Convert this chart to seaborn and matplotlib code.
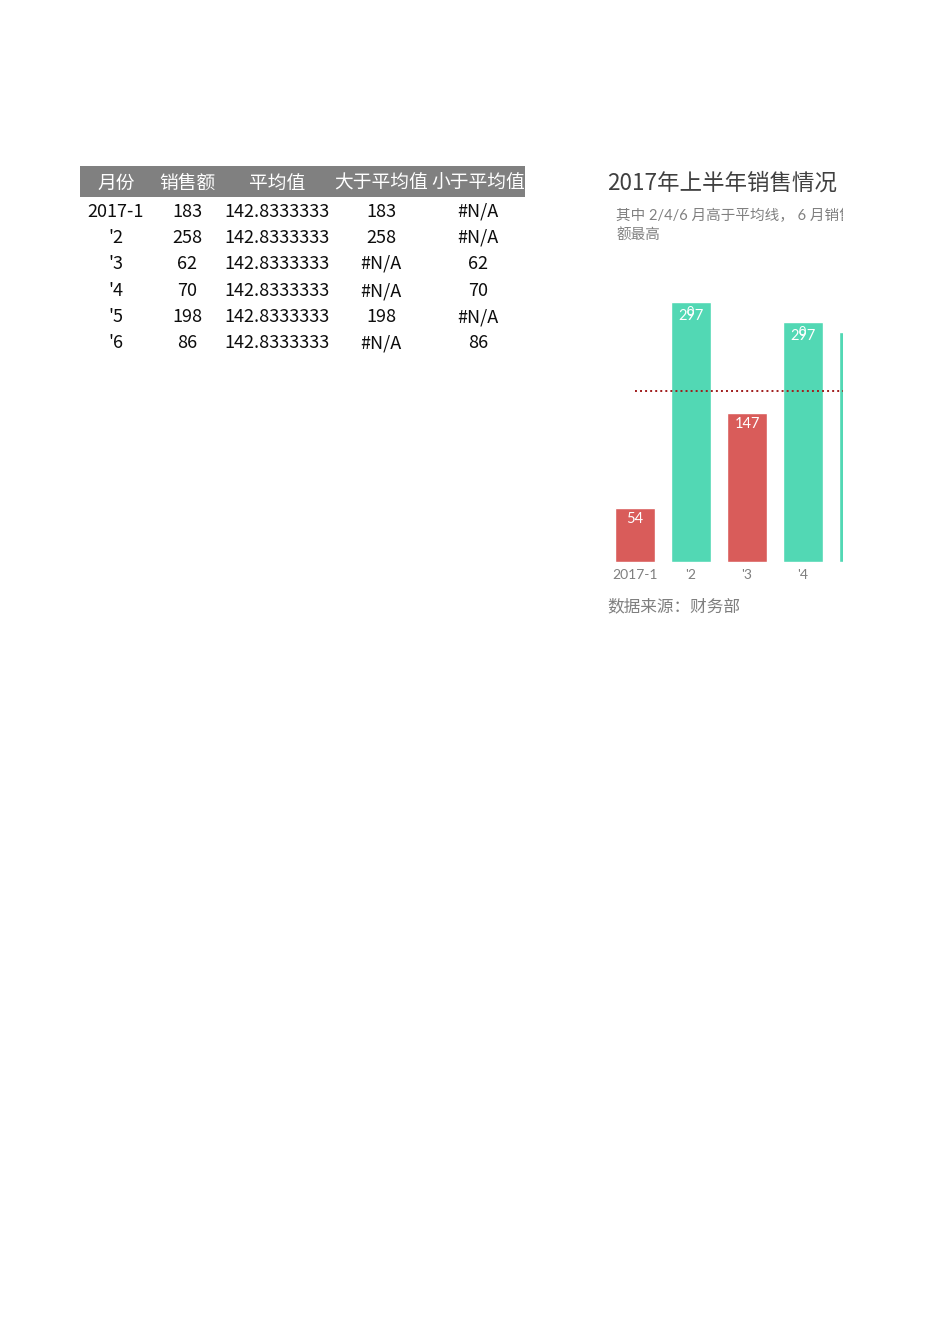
import pandas as pd
import matplotlib
matplotlib.use("Agg")
import matplotlib.pyplot as plt
import seaborn as sns
from matplotlib.patches import Rectangle

# table data (left part of the sheet)
headers = ["月份", "销售额", "平均值", "大于平均值", "小于平均值"]
months = ["2017-1", "'2", "'3", "'4", "'5", "'6"]
sales = ["183", "258", "62", "70", "198", "86"]
averages = ["142.8333333"] * 6
above_avg = ["183", "258", "#N/A", "#N/A", "198", "#N/A"]
below_avg = ["#N/A", "#N/A", "62", "70", "#N/A", "86"]

# chart data (as drawn in the picture)
bar_months = ["2017-1", "'2", "'3", "'4", "'5"]
bar_values = [54, 260, 149, 240, 230]
bar_groups = ["低于", "高于", "低于", "高于", "高于"]
bar_labels = ["54", "297", "147", "297", ""]
avg_line = 171

title = "2017年上半年销售情况"
subtitle_1 = "其中 2/4/6 月高于平均线， 6 月销售"
subtitle_2 = "额最高"
source = "数据来源：财务部"

sns.set_style("white")
plt.rcParams["font.family"] = ["Noto Sans CJK SC", "DejaVu Sans"]

W, H = 950, 1344
fig = plt.figure(figsize=(W / 100, H / 100), dpi=100)


def px_axes(x0, y0, x1, y1):
    return fig.add_axes([x0 / W, 1 - y1 / H, (x1 - x0) / W, (y1 - y0) / H])


# ---- table ----
tab = px_axes(0, 0, W, H)
tab.set_xlim(0, W)
tab.set_ylim(H, 0)
tab.axis("off")
tab.add_patch(Rectangle((80, 166), 445, 31, color="#808080", lw=0))
col_x = [116, 187, 277, 381, 478]
for x, h in zip(col_x, headers):
    tab.text(x, 183, h, ha="center", va="center", color="white", fontsize=13.5)
row_y = [212, 238, 264, 291, 317, 343]
for i, y in enumerate(row_y):
    row = [months[i], sales[i], averages[i], above_avg[i], below_avg[i]]
    for x, v in zip(col_x, row):
        tab.text(x, y, v, ha="center", va="center", color="#0d0d0d", fontsize=13)

# ---- chart frame (clipped at the right) ----
ch = px_axes(595, 150, 843, 640)
ch.set_xlim(595, 843)
ch.set_ylim(640, 150)
ch.axis("off")
ch.text(607, 183, title, ha="left", va="center", color="#404040", fontsize=16.2, clip_on=True)
ch.text(616, 216, subtitle_1, ha="left", va="center", color="#808080", fontsize=10.5,
        family=["Lato", "Noto Sans CJK SC"], clip_on=True)
ch.text(616, 235, subtitle_2, ha="left", va="center", color="#808080", fontsize=10.5, clip_on=True)
ch.text(607, 607, source, ha="left", va="center", color="#7f7f7f", fontsize=12, clip_on=True)

# ---- bars ----
ax = px_axes(607, 290, 843, 562)
df = pd.DataFrame({"month": bar_months, "value": bar_values, "group": bar_groups})
sns.barplot(data=df, x="month", y="value", hue="group", dodge=False, width=0.714,
            palette={"高于": "#52d8b4", "低于": "#d95c5a"}, saturation=1,
            legend=False, ax=ax)
ax.plot([0, 5], [avg_line, avg_line], color="#a01c1c", lw=1.4, ls=(0, (1, 1.6)))
ax.set_xlim(-0.5, 3.714)
ax.set_ylim(0, 272)
ax.set_xlabel("")
ax.set_ylabel("")
ax.set_yticks([])
for s in ax.spines.values():
    s.set_visible(False)
ax.tick_params(axis="x", length=0, pad=5, labelsize=10, labelcolor="#7f7f7f")
for t in ax.get_xticklabels():
    t.set_family(["Lato", "Noto Sans CJK SC"])
ax.patch.set_alpha(0)

for i, (v, lab) in enumerate(zip(bar_values, bar_labels)):
    if not lab:
        continue
    off = -14 if bar_groups[i] == "高于" else -11
    ax.annotate(lab, (i, v), xytext=(0, off), textcoords="offset pixels",
                ha="center", va="center", color="white", fontsize=10.5,
                family=["Lato", "DejaVu Sans"])
    if bar_groups[i] == "高于":
        # stray "0" label sitting on top of the value label, as in the sheet
        ax.annotate("0", (i, v), xytext=(-1, -10), textcoords="offset pixels",
                    ha="center", va="center", color="white", fontsize=9,
                    family=["Lato", "DejaVu Sans"])

fig.savefig("out.png", dpi=100, facecolor="white")
